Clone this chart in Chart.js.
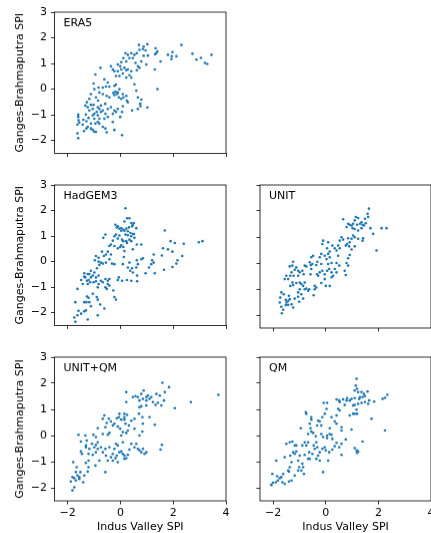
<!DOCTYPE html>
<html>
<head>
<meta charset="utf-8">
<script src="https://cdn.jsdelivr.net/npm/chart.js@4.4.0/dist/chart.umd.min.js"></script>
<style>
  html, body { margin: 0; padding: 0; background: #fff; overflow: hidden; }
  body { width: 431px; height: 533px; position: relative; }
  .panel { position: absolute; }
</style>
</head>
<body>
<div class="panel" id="p0"><canvas id="c0"></canvas></div>
<div class="panel" id="p1"><canvas id="c1"></canvas></div>
<div class="panel" id="p2"><canvas id="c2"></canvas></div>
<div class="panel" id="p3"><canvas id="c3"></canvas></div>
<div class="panel" id="p4"><canvas id="c4"></canvas></div>
<script>
// eixos comuns
const xTicks = [-2, 0, 2, 4];
const yTicks = [-2, -1, 0, 1, 2, 3];
const xRange = [-2.5, 4];
const yRange = [-2.5, 3];
const xTitle = 'Indus Valley SPI';
const yTitle = 'Ganges-Brahmaputra SPI';
const panelNames = ['ERA5', 'HadGEM3', 'UNIT', 'UNIT+QM', 'QM'];

// pontos [Indus, Ganges-Brahmaputra]
const era5 = [
  [2.31,1.72],[2.73,1.38],[2.88,1.15],[3.05,1.22],[3.2,1.02],[3.29,0.98],[3.45,1.34],
  [1.80,1.34],[1.97,1.44],[1.94,1.28],[1.93,1.17],[2.12,1.28],[1.52,1.08],[1.40,0.0],[1.30,0.77],
  [1.36,1.40],[1.33,1.59],[1.40,1.47],[1.31,1.36],
  [0.70,1.72],[0.88,1.66],[1.02,1.75],[0.85,1.56],[0.95,1.51],[1.04,1.31],[0.88,1.30],[0.72,1.53],
  [0.62,1.40],[0.53,1.34],[0.41,1.40],[0.28,1.34],[0.19,1.40],[0.34,1.21],[0.47,1.21],[0.57,1.02],
  [0.66,0.89],[0.72,0.83],[0.62,0.74],[0.79,1.08],[0.98,0.96],
  [0.22,1.08],[0.11,1.21],[0.03,1.05],[-0.10,0.96],[-0.01,0.89],[0.03,0.77],[0.15,0.83],[0.22,0.74],
  [0.28,0.77],[0.41,0.70],[0.34,0.54],[0.22,0.45],[0.41,0.45],[0.53,0.19],[0.09,0.61],[-0.04,0.51],
  [-0.17,0.51],[-0.23,0.70],[-0.10,0.70],[-0.36,0.89],[-0.29,0.77],
  [-0.76,0.83],[-0.95,0.57],[-0.61,0.38],[-0.48,0.26],[-0.55,0.10],[-0.42,0.10],[-0.67,0.06],
  [-0.83,0.06],[-1.02,0.22],[-0.80,-0.13],[-0.99,0.0],[-1.12,-0.19],[-0.93,-0.32],[-0.85,-0.45],
  [-0.67,-0.19],[-0.52,-0.26],[-0.42,-0.32],[-0.23,0.13],[-0.17,0.18],[-0.27,-0.15],[-0.23,-0.23],
  [-0.14,-0.19],[-0.10,-0.13],[-0.19,-0.10],[-0.06,-0.32],[-0.04,0.0],[0.03,-0.38],[0.11,-0.32],
  [0.09,-0.19],[0.22,-0.26],[0.28,-0.51],[0.24,-0.45],[0.60,-0.06],[0.66,-0.32],[0.79,-0.41],
  [0.75,-0.57],[0.76,-0.66],[1.02,-0.71],[0.66,-0.77],[0.44,-0.83],[0.09,-0.66],[-0.10,-0.77],
  [0.06,-0.89],[-0.01,-1.08],[-0.17,-0.89],[-0.29,-0.96],[-0.23,-0.83],[-0.36,-0.70],[-0.48,-0.77],
  [-0.58,-0.57],[-0.74,-0.64],[-0.80,-0.77],[-0.90,-0.89],[-0.74,-0.89],[-0.67,-0.83],[-0.57,-0.96],
  [-0.48,-1.08],[-0.61,-1.15],[-0.80,-1.15],[-0.86,-1.02],[-0.99,-0.96],[-1.05,-1.02],[-1.18,-0.83],
  [-1.24,-0.70],[-1.33,-0.64],[-1.27,-0.51],[-1.18,-0.38],[-1.12,-0.61],[-1.05,-0.77],[-1.02,-0.61],
  [-0.86,-0.70],
  [-1.60,-0.99],[-1.60,-1.08],[-1.59,-1.21],[-1.63,-1.38],[-1.56,-1.30],[-1.41,-1.19],[-1.43,-1.38],
  [-1.29,-1.25],[-1.24,-1.47],[-1.29,-1.53],[-1.38,-1.63],[-1.12,-1.53],[-1.05,-1.59],[-0.99,-1.66],
  [-0.93,-1.66],[-1.12,-1.34],[-0.95,-1.34],[-0.86,-1.28],[-0.67,-1.47],[-0.57,-1.53],[-0.52,-1.68],
  [-0.23,-1.59],[0.06,-1.79],[-1.63,-1.72],[-1.60,-1.91],[-1.31,-0.99],[-1.21,-1.12],[-0.99,-1.15],
  [-0.29,-1.28],[-0.80,-1.34]
];

const hadgem3 = [
  [3.11,0.80],[2.97,0.76],[2.40,0.70],[2.06,0.73],[1.90,0.80],[1.68,1.22],[1.61,0.52],[1.57,0.24],
  [1.80,0.48],[1.97,0.39],[2.34,0.22],[2.16,0.05],[2.12,-0.08],[1.97,-0.21],[1.65,-0.32],[1.26,0.28],
  [1.20,0.05],[1.26,-0.04],[1.17,-0.10],[1.30,-0.46],[1.08,-0.23],[0.95,-0.46],[0.85,0.13],[0.79,0.09],
  [0.66,-0.10],[0.62,0.05],[0.60,-0.23],[0.63,-0.55],[0.63,-0.77],[0.47,-0.43],[0.44,-0.26],[0.37,-0.36],
  [0.34,-0.04],[0.28,-0.23],[0.41,-0.75],[0.25,-0.72],[0.06,-0.75],[-0.10,-0.72],[-0.06,-0.62],
  [0.09,-0.10],[0.13,0.18],[0.47,0.48],
  [0.19,2.09],[0.25,1.70],[0.34,1.70],[0.15,1.57],[0.41,1.51],[0.47,1.44],[0.44,1.38],[0.51,1.51],
  [0.32,1.34],[0.22,1.29],[0.11,1.25],[0.03,1.21],[-0.04,1.29],[-0.14,1.34],[-0.19,1.44],[-0.10,1.38],
  [0.03,1.31],[0.15,1.21],[0.28,1.19],[0.38,1.12],[0.47,1.08],[0.41,0.99],[0.28,1.03],[0.19,1.06],
  [0.34,0.86],[0.22,0.80],[0.11,0.80],[-0.04,1.02],[-0.17,1.06],[-0.23,0.99],[-0.10,0.90],[-0.29,0.82],
  [-0.36,0.67],[-0.42,0.61],[-0.23,0.61],[-0.10,0.52],[0.03,0.64],[0.11,0.57],[0.25,0.73],[0.41,0.80],
  [0.51,1.08],[0.60,1.31],[0.53,0.93],[0.79,0.67],[0.62,0.67],[0.06,0.86],[-0.01,0.57],[0.15,0.41],
  [-0.57,1.06],[-0.65,0.93],[-0.48,0.39],[-0.55,0.28],[-0.70,0.39],[-0.63,0.22],[-0.83,0.15],
  [-0.93,0.22],[-0.97,0.05],[-0.83,0.0],[-0.74,-0.04],[-0.55,-0.04],[-0.42,0.09],[-0.36,0.28],
  [-0.32,-0.08],[-0.23,-0.10],[-0.80,-0.13],[-0.67,-0.08],[-0.89,-0.26],[-0.99,-0.43],[-1.12,-0.36],
  [-1.18,-0.49],[-1.05,-0.55],[-0.93,-0.62],[-0.83,-0.55],[-0.74,-0.75],[-0.67,-0.81],[-0.57,-0.68],
  [-0.48,-0.75],[-0.42,-0.68],[-0.48,-0.88],[-0.57,-1.01],[-0.52,-1.07],[-0.42,-0.94],[-0.27,-1.13],
  [-0.23,-1.39],[-0.17,-1.49],[-0.86,-1.01],[-0.83,-0.88],[-0.93,-0.77],[-1.02,-0.81],[-1.12,-0.62],
  [-1.24,-0.49],[-1.37,-0.46],[-1.33,-0.62],[-1.27,-0.75],[-1.21,-0.72],[-1.24,-0.88],[-1.15,-0.81],
  [-1.63,-1.07],[-1.43,-0.88],[-1.49,-0.72],[-1.37,-0.59],
  [-1.27,-1.37],[-1.21,-1.42],[-1.05,-1.26],[-0.90,-1.39],[-0.86,-1.49],[-1.37,-1.59],[-1.29,-1.59],
  [-1.18,-1.59],[-1.71,-1.59],[-1.31,-1.91],[-1.37,-1.95],[-1.59,-1.93],[-1.49,-2.04],[-1.63,-2.10],
  [-1.75,-2.19],[-1.71,-2.36],[-1.24,-2.27],[-0.86,-2.10],[-0.77,-1.68],[-0.61,-1.84],[-1.12,-1.75]
];

const unit = [
  [1.64,2.09],[1.59,1.89],[1.61,1.77],[1.49,1.70],[1.52,1.53],[1.36,1.57],[1.23,1.73],[1.14,1.77],
  [1.10,1.64],[1.19,1.47],[1.30,1.51],[1.40,1.47],[1.04,1.51],[0.98,1.44],[0.91,1.47],[0.66,1.68],
  [0.85,1.51],[0.79,1.38],[1.02,1.34],[1.10,1.31],[1.23,1.25],[1.36,1.34],[1.45,1.44],[1.70,1.34],
  [2.12,1.34],[2.31,1.34],[1.80,1.12],[1.93,0.48],[1.42,0.95],[1.40,0.86],[1.23,0.93],[1.10,0.99],
  [1.04,1.06],[0.98,0.93],[0.85,0.95],[0.91,0.80],[0.81,0.73],[0.76,0.67],[0.89,0.64],[1.10,0.64],
  [0.98,0.52],[0.91,0.31],[0.85,0.18],[0.79,0.0],[0.85,-0.10],[0.72,-0.30],[0.76,-0.46],[0.66,0.90],
  [0.60,0.99],[0.53,0.86],[0.47,0.67],[0.53,0.57],[0.41,0.48],[0.34,0.57],[0.25,0.67],[0.47,0.28],
  [0.51,-0.10],[0.41,-0.36],[0.28,-0.49],[0.22,-0.36],[0.34,-0.23],[0.41,0.0],[0.22,0.0],[0.09,-0.04],
  [0.15,0.22],[0.03,0.15],[-0.04,0.28],[0.09,0.35],[0.15,0.44],[0.05,0.57],[0.09,0.80],[-0.13,0.73],
  [-0.10,0.86],[-0.17,0.35],[-0.23,0.22],[-0.17,-0.04],[-0.13,-0.30],[-0.04,-0.43],[0.05,-0.30],
  [0.13,-0.23],[0.22,-0.55],[-0.04,-0.62],[0.0,-0.88],[0.15,-0.88],[-0.17,-0.77],[-0.29,-0.49],
  [-0.33,-0.43],[-0.23,-0.36],[-0.48,0.28],[-0.55,0.22],[-0.61,0.03],[-0.51,-0.04],[-0.55,-0.23],
  [-0.58,-0.43],[-0.42,-0.88],[-0.36,-0.94],[-0.46,-1.24],[-0.42,-1.01],[-0.63,-1.01],[-0.67,-1.07],
  [-0.74,-0.98],[-0.80,-1.01],[-0.80,-0.75],[-0.86,-0.88],[-0.93,-0.81],[-0.99,-0.75],[-0.84,-0.43],
  [-0.80,-0.10],[-0.89,-0.30],[-0.99,-0.36],[-1.05,-0.30],[-1.12,-0.17],[-1.24,0.05],[-1.27,-0.10],
  [-1.18,-0.26],[-1.37,-0.13],[-1.30,-0.36],[-1.43,-0.62],[-1.56,-0.62],[-1.50,-0.49],[-1.35,-0.49],
  [-1.22,-0.49],[-1.24,-0.85],[-1.35,-0.88],[-1.27,-0.75],[-1.12,-0.77],[-1.05,-0.49],[-0.99,-1.01],
  [-0.93,-1.20],[-1.05,-1.13],[-1.01,-1.49],[-0.86,-1.37],[-1.24,-1.71],[-1.40,-1.26],[-1.37,-1.39],
  [-1.43,-1.46],[-1.50,-1.52],[-1.52,-1.42],[-1.60,-1.20],[-1.69,-1.13],[-1.73,-1.33],[-1.75,-1.52],
  [-1.69,-1.68],[-1.62,-1.80],[-1.67,-1.93],[-1.52,-1.62],[-1.43,-1.61],[-1.30,-1.59],[-1.05,-1.30],
  [-1.18,-1.37],[-0.57,-0.08],[-0.74,-0.13],[-0.32,0.05],[-0.36,-0.08]
];

const unitQm = [
  [3.71,1.56],[2.67,1.28],[2.06,1.05],[1.84,1.85],[1.59,2.02],[1.68,1.66],[1.65,1.34],[1.49,1.53],
  [1.36,1.59],[1.55,1.15],[1.42,1.25],[1.33,1.17],[1.23,1.28],[1.10,1.40],[1.04,1.53],[1.17,1.47],
  [0.98,1.47],[0.88,1.72],[0.79,1.59],[0.85,1.40],[0.72,1.34],[0.66,1.47],[0.57,1.51],[0.47,1.47],
  [0.22,1.66],[0.98,1.34],[0.79,1.12],[0.98,1.15],[0.72,1.08],[0.22,1.28],[0.70,0.83],[0.83,0.70],
  [1.10,0.70],[0.85,0.45],[1.30,0.41],[0.53,0.64],[0.41,0.57],[0.25,0.79],[0.15,0.83],[0.15,0.70],
  [-0.04,0.83],[-0.06,0.70],[-0.14,0.66],[0.03,0.61],[0.15,0.61],[0.19,0.45],[0.32,0.38],[0.53,0.26],
  [0.83,0.15],[0.72,0.0],[0.28,0.19],[0.22,0.10],[0.09,0.13],[-0.01,0.26],[-0.10,0.34],[-0.29,0.38],
  [-0.23,0.45],[-0.36,0.54],[-0.44,0.64],[-0.52,0.48],[-0.61,0.77],[-0.67,0.64],[-0.57,0.32],
  [-0.48,0.03],[-0.42,0.10],[-0.67,0.06],[-0.86,0.28],[-0.93,-0.06],[-1.03,0.03],[-0.86,-0.26],
  [-0.93,-0.36],[-0.99,-0.45],[-1.08,-0.32],[-1.18,-0.51],[-1.31,-0.38],[-1.28,-0.19],[-1.33,0.0],
  [-1.59,0.03],[-1.50,-0.23],[-1.50,-0.61],[-1.46,-0.70],[-1.31,-0.45],[-1.21,-0.70],[-1.05,-0.74],
  [-0.93,-0.64],[-0.86,-0.51],[-0.74,-0.45],[-0.67,-0.64],[-0.57,-0.51],[-0.55,-0.77],[-0.48,-0.96],
  [-0.36,-0.83],[-0.29,-0.70],[-0.29,-0.96],[-0.19,-0.87],[-0.10,-1.02],[-0.14,-0.77],[-0.04,-0.64],
  [0.03,-0.61],[0.09,-0.70],[0.15,-0.77],[0.22,-0.87],[0.28,-0.74],[0.15,-0.89],[0.34,-0.54],
  [0.41,-0.32],[0.53,-0.45],[0.66,-0.51],[0.72,-0.57],[0.79,-0.64],[0.91,-0.70],[0.98,-0.64],
  [0.85,-0.51],[0.60,-0.32],[-0.17,-0.32],[-0.10,-0.38],[-0.23,-0.51],[-0.42,-0.45],[0.03,0.0],
  [0.09,-0.26],[1.57,-0.36],[1.52,-0.54],[-0.57,-1.40],[-0.80,-0.96],[-0.95,-1.15],[-1.21,-0.96],
  [-1.31,-1.05],[-1.21,-1.21],[-1.24,-1.38],[-1.37,-1.53],[-1.41,-1.79],[-1.56,-1.59],[-1.52,-1.40],
  [-1.63,-1.53],[-1.69,-1.40],[-1.66,-1.21],[-1.79,-1.02],[-1.82,-1.59],[-1.75,-1.63],[-1.69,-1.72],
  [-1.88,-1.76],[-1.75,-1.98],[-1.82,-2.10],[-1.56,-1.66]
];

const qm = [
  [1.17,2.17],[1.14,1.91],[1.19,1.79],[1.10,1.72],[1.23,1.66],[1.36,1.66],[1.45,1.59],[1.59,1.68],
  [1.49,1.51],[1.40,1.47],[1.30,1.47],[1.27,1.40],[1.10,1.43],[0.98,1.40],[0.91,1.34],[0.79,1.34],
  [0.81,1.43],[2.34,1.56],[2.25,1.44],[2.16,1.40],[1.84,1.30],[1.65,1.34],[1.61,1.21],[1.49,1.28],
  [1.36,1.25],[1.23,1.21],[1.10,1.17],[1.04,1.15],[1.17,0.99],[1.10,0.83],[1.19,0.83],[1.04,0.83],
  [0.91,0.77],[1.74,0.64],[2.25,0.19],[1.40,-0.23],[1.10,-0.48],[1.17,-0.57],[1.23,-0.61],[1.19,-0.66],
  [0.66,1.38],[0.53,1.28],[0.41,1.38],[0.51,1.34],[0.53,0.96],[0.47,1.02],[0.72,1.17],[0.41,0.77],
  [0.34,0.54],[0.41,0.45],[0.22,0.70],[0.05,1.25],[-0.08,1.25],[0.03,1.02],[-0.04,0.83],[-0.13,0.70],
  [-0.23,0.54],[-0.29,0.57],[-0.33,0.38],[-0.17,0.38],[-0.55,0.70],[-0.55,0.61],[-0.74,0.83],
  [-0.76,0.89],[-0.61,0.45],[-0.58,0.28],[-0.67,0.06],[-0.55,0.15],[-0.48,0.10],[-0.38,-0.03],
  [-0.17,0.06],[-0.10,-0.06],[0.05,0.0],[0.15,0.06],[0.22,0.03],[0.15,0.28],[0.60,0.32],[0.60,0.19],
  [0.98,0.23],[0.76,-0.15],[0.60,-0.32],[0.51,-0.45],[0.41,-0.28],[0.60,-0.74],[0.25,-0.54],
  [0.13,-0.64],[-0.04,-0.45],[0.0,-0.57],[-0.13,-0.51],[-0.23,-0.64],[-0.29,-0.77],[-0.36,-0.89],
  [-0.23,-0.96],[-0.10,-1.40],[0.09,-0.96],[-0.42,-0.51],[-0.46,-0.38],[-0.51,-0.70],[-0.61,-0.89],
  [-0.67,-0.89],[-0.80,-0.74],[-0.74,-0.38],[-0.67,-0.26],[-0.80,-0.26],[-0.89,-0.38],[-0.95,0.28],
  [-1.12,-0.38],[-1.12,-0.61],[-1.18,-0.70],[-1.05,-0.96],[-0.99,-0.77],[-0.89,-1.08],[-0.86,-1.21],
  [-0.83,-1.47],[-0.93,-1.34],[-1.05,-1.34],[-1.24,-0.64],[-1.35,-0.77],[-1.37,-0.26],[-1.27,-0.23],
  [-1.50,-0.32],[-1.18,-0.38],[-1.56,-0.83],[-1.30,-1.02],[-1.37,-1.21],[-1.43,-1.34],[-1.40,-1.38],
  [-1.62,-1.47],[-1.69,-1.59],[-1.75,-1.63],[-1.85,-1.56],[-1.88,-0.96],[-2.03,-1.47],[-1.82,-1.72],
  [-1.90,-1.79],[-2.07,-1.89],[-2.01,-1.81],[-1.65,-1.79],[-1.56,-1.85],[-1.40,-1.76],[-1.18,-1.53],
  [-1.30,-1.72],[-1.01,-1.21],[-0.36,-0.26],[-0.32,-0.45],[0.05,-0.10],[0.25,-0.13],[0.34,-0.41],
  [-0.63,-0.64]
];

Chart.defaults.font.family = "'DejaVu Sans', sans-serif";
Chart.defaults.font.size = 11;
Chart.defaults.color = '#000';

// moldura (4 lados) e nome do painel
const framePlugin = {
  id: 'frame',
  afterDraw(chart, args, opts) {
    const a = chart.chartArea, ctx = chart.ctx;
    ctx.save();
    ctx.strokeStyle = '#000';
    ctx.lineWidth = 0.8;
    ctx.strokeRect(a.left, a.top, a.right - a.left, a.bottom - a.top);
    ctx.font = "11px 'DejaVu Sans', sans-serif";
    ctx.fillStyle = '#000';
    ctx.textBaseline = 'middle';
    ctx.fillText(opts.label, a.left + 9, a.top + 11);
    ctx.restore();
  }
};

function fmt(v) {
  return v < 0 ? '\u2212' + Math.abs(v) : String(v);
}

// monta um painel com a área de plotagem em (plotLeft, plotTop)
function buildPanel(idx, data, cfg) {
  const boxLeft = cfg.yLabels ? 0 : 240;
  const padTop = 12, padRight = 6;
  const yW = cfg.plotLeft - boxLeft;
  const xH = cfg.xLabels ? 33 : 8;
  const w = yW + cfg.plotW + padRight;
  const h = padTop + cfg.plotH + xH;

  const box = document.getElementById('p' + idx);
  box.style.left = boxLeft + 'px';
  box.style.top = (cfg.plotTop - padTop) + 'px';
  const canvas = document.getElementById('c' + idx);
  canvas.width = w;
  canvas.height = h;
  canvas.style.width = w + 'px';
  canvas.style.height = h + 'px';

  new Chart(canvas, {
    type: 'scatter',
    data: {
      datasets: [{
        data: data.map(p => ({x: p[0], y: p[1]})),
        backgroundColor: '#1f77b4',
        borderWidth: 0,
        pointRadius: 1.3,
        pointHoverRadius: 1.3
      }]
    },
    options: {
      responsive: false,
      animation: false,
      devicePixelRatio: 1,
      layout: { padding: { top: padTop, right: padRight, left: 0, bottom: 0 } },
      plugins: { legend: { display: false }, tooltip: { enabled: false }, frame: { label: panelNames[idx] } },
      scales: {
        x: {
          type: 'linear', min: xRange[0], max: xRange[1],
          afterBuildTicks: s => { s.ticks = xTicks.map(v => ({value: v})); },
          afterFit: s => { s.height = xH; },
          grid: { drawOnChartArea: false, drawTicks: true, tickLength: 3.5, color: '#000', lineWidth: 0.8 },
          border: { display: false },
          ticks: { display: cfg.xLabels, padding: 2, callback: v => fmt(v), maxRotation: 0 },
          title: { display: cfg.xLabels, text: xTitle, padding: { top: 0, bottom: 0 } }
        },
        y: {
          type: 'linear', min: yRange[0], max: yRange[1],
          afterBuildTicks: s => { s.ticks = yTicks.map(v => ({value: v})); },
          afterFit: s => { s.width = yW; },
          grid: { drawOnChartArea: false, drawTicks: true, tickLength: 3.5, color: '#000', lineWidth: 0.8 },
          border: { display: false },
          ticks: { display: cfg.yLabels, padding: 4, callback: v => fmt(v) },
          title: { display: cfg.yLabels, text: yTitle, padding: { top: 13.5, bottom: 0 } }
        }
      }
    },
    plugins: [framePlugin]
  });
}

buildPanel(0, era5,    { plotLeft: 54.5, plotTop: 12,  plotW: 171.5, plotH: 143.5, yLabels: true,  xLabels: false });
buildPanel(1, hadgem3, { plotLeft: 54.5, plotTop: 185, plotW: 171.5, plotH: 143,   yLabels: true,  xLabels: false });
buildPanel(2, unit,    { plotLeft: 260,  plotTop: 185, plotW: 171,   plotH: 143,   yLabels: false, xLabels: false });
buildPanel(3, unitQm,  { plotLeft: 54.5, plotTop: 357, plotW: 171.5, plotH: 143.5, yLabels: true,  xLabels: true });
buildPanel(4, qm,      { plotLeft: 260,  plotTop: 357, plotW: 171,   plotH: 143.5, yLabels: false, xLabels: true });
</script>
</body>
</html>
